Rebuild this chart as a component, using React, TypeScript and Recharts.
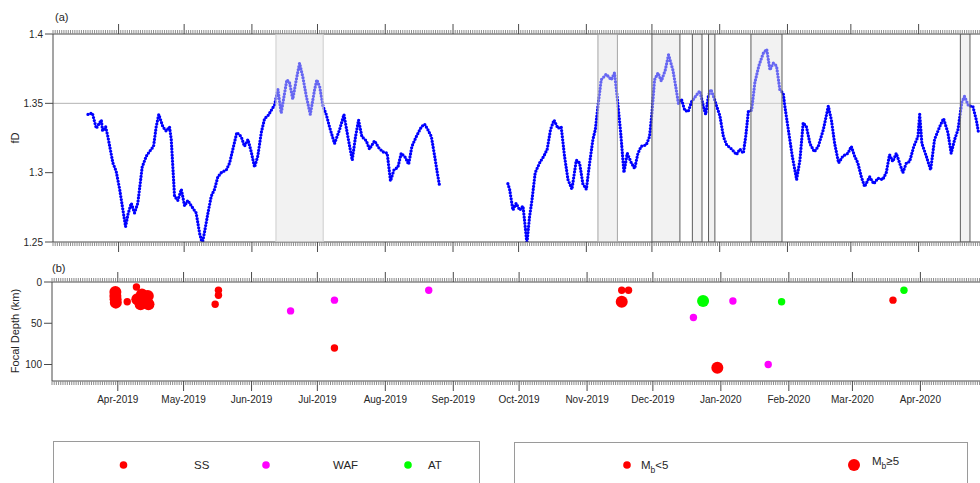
import React from 'react';
import { ComposedChart, Line, Scatter, XAxis, YAxis, ReferenceArea, ReferenceLine } from 'recharts';

// x values are days counted from 1 Apr 2019
const fdDays1 = [-14.0, -12.0, -10.2, -7.9, -7.3, -5.9, -4.9, -2.6, -1.1, 0.5,
  1.7, 3.2, 4.3, 5.8, 7.3, 8.8, 10.8, 12.7, 15.0, 16.0,
  17.2, 18.4, 20.3, 21.8, 23.3, 24.1, 25.6, 27.1, 28.7, 30.2,
  31.7, 33.3, 35.5, 37.1, 38.3, 39.3, 40.9, 42.4, 43.9, 45.4,
  47.0, 49.3, 50.8, 52.3, 54.1, 56.1, 57.6, 59.2, 60.7, 62.2,
  63.7, 65.3, 66.8, 68.3, 69.9, 71.4, 72.9, 74.4, 75.9, 77.0,
  78.2, 79.7, 81.3, 82.8, 84.3, 85.9, 87.7, 89.7, 90.7, 92.0,
  93.5, 95.0, 96.5, 98.8, 101.1, 103.1, 104.9, 106.9, 108.4, 109.8,
  111.3, 113.3, 114.8, 117.1, 119.0, 120.9, 122.9, 124.4, 126.0, 127.8,
  129.3, 131.2, 132.7, 134.2, 136.2, 138.5, 140.0, 141.5, 143.1, 144.6,
  145.8, 146.9];
const fdVals1 = [1.342, 1.343, 1.332, 1.338, 1.330, 1.333, 1.326, 1.307, 1.301, 1.288,
  1.276, 1.261, 1.270, 1.278, 1.271, 1.278, 1.304, 1.312, 1.317, 1.319,
  1.333, 1.342, 1.333, 1.330, 1.333, 1.324, 1.283, 1.280, 1.288, 1.276,
  1.280, 1.276, 1.271, 1.256, 1.249, 1.257, 1.271, 1.283, 1.288, 1.297,
  1.300, 1.302, 1.307, 1.317, 1.329, 1.326, 1.319, 1.324, 1.315, 1.304,
  1.312, 1.329, 1.339, 1.341, 1.345, 1.349, 1.360, 1.343, 1.357, 1.367,
  1.365, 1.353, 1.367, 1.379, 1.369, 1.355, 1.342, 1.360, 1.367, 1.362,
  1.348, 1.342, 1.333, 1.321, 1.331, 1.342, 1.326, 1.309, 1.326, 1.338,
  1.326, 1.323, 1.317, 1.323, 1.318, 1.315, 1.314, 1.294, 1.302, 1.304,
  1.314, 1.311, 1.306, 1.319, 1.326, 1.333, 1.335, 1.331, 1.326, 1.312,
  1.300, 1.290];

const fdDays2 = [178.1, 178.9, 180.4, 181.9, 183.5, 185.0, 185.7, 186.8, 188.0, 189.1,
  190.6, 192.6, 194.6, 196.1, 197.6, 199.2, 201.0, 202.5, 204.0, 205.6,
  207.4, 209.4, 210.9, 212.4, 214.0, 215.5, 217.0, 218.1, 219.3, 220.8,
  223.1, 225.4, 226.9, 228.2, 229.7, 231.2, 232.7, 234.6, 236.1, 237.6,
  239.1, 241.4, 242.9, 244.0, 245.2, 246.8, 248.3, 250.1, 251.6, 253.6,
  254.9, 256.1, 257.5, 259.0, 260.6, 262.1, 264.4, 265.9, 267.5, 268.6,
  269.8, 271.0, 272.4, 273.6, 275.1, 276.7, 278.2, 280.5, 282.7, 284.2,
  285.8, 286.9, 288.1, 289.6, 291.1, 292.9, 294.9, 296.5, 298.0, 299.5,
  301.0, 302.5, 304.1, 304.8, 306.4, 308.2, 310.2, 311.7, 313.2, 314.7,
  316.3, 318.3, 320.1, 322.4, 324.7, 326.1, 327.6, 329.4, 331.4, 333.7,
  335.2, 336.7, 338.2, 339.8, 341.3, 343.6, 345.5, 347.4, 349.6, 351.2,
  352.7, 354.2, 355.8, 357.3, 358.8, 360.4, 361.9, 363.8, 365.7, 366.5,
  367.5, 369.5, 371.5, 373.3, 375.6, 377.4, 379.4, 380.9, 382.5, 384.0,
  385.8, 387.0, 388.9, 390.8, 392.4, 393.4];
const fdVals2 = [1.292, 1.288, 1.273, 1.278, 1.273, 1.276, 1.266, 1.249, 1.268, 1.280,
  1.300, 1.307, 1.312, 1.317, 1.331, 1.338, 1.332, 1.333, 1.312, 1.295,
  1.288, 1.309, 1.307, 1.292, 1.288, 1.307, 1.324, 1.331, 1.348, 1.367,
  1.371, 1.367, 1.372, 1.353, 1.329, 1.300, 1.314, 1.307, 1.303, 1.314,
  1.319, 1.320, 1.326, 1.343, 1.367, 1.372, 1.366, 1.374, 1.385, 1.374,
  1.362, 1.350, 1.353, 1.345, 1.344, 1.351, 1.356, 1.359, 1.348, 1.342,
  1.355, 1.360, 1.354, 1.348, 1.341, 1.326, 1.320, 1.317, 1.313, 1.317,
  1.314, 1.326, 1.344, 1.345, 1.365, 1.377, 1.386, 1.389, 1.374, 1.379,
  1.377, 1.360, 1.357, 1.348, 1.331, 1.312, 1.295, 1.309, 1.336, 1.333,
  1.321, 1.315, 1.319, 1.331, 1.348, 1.338, 1.321, 1.307, 1.312, 1.314,
  1.319, 1.312, 1.307, 1.297, 1.290, 1.297, 1.292, 1.296, 1.295, 1.300,
  1.313, 1.308, 1.314, 1.307, 1.300, 1.307, 1.308, 1.319, 1.326, 1.342,
  1.321, 1.312, 1.302, 1.324, 1.333, 1.339, 1.329, 1.314, 1.324, 1.331,
  1.351, 1.355, 1.348, 1.348, 1.338, 1.329];

// shaded windows (start / end day)
const windowStart = [72.0, 219.3, 244.0, 262.5, 269.9, 289.3, 385.1];
const windowEnd = [93.6, 228.2, 256.8, 266.9, 272.8, 303.5, 389.5];

// earthquakes
const eqDay = [-1.1, -1.1, -1.0, -0.9, 4.3, 8.5, 8.9, 10.4, 11.0, 11.6, 13.7, 14.0, 12.5,
  44.4, 45.9, 45.9, 78.8, 98.8, 98.8, 141.8, 229.8, 232.9, 229.8,
  262.5, 266.9, 280.5, 302.7, 353.5, 358.5, 273.4, 296.6];
const eqDepth = [12, 17, 21, 25, 24, 6, 21, 27, 15, 24, 17, 27, 20,
  27, 10, 16, 35, 22, 80, 10, 10, 10, 24,
  43, 23, 23, 24, 22, 10, 104, 100];
const eqType = ['SS', 'SS', 'SS', 'SS', 'SS', 'SS', 'SS', 'SS', 'SS', 'SS', 'SS', 'SS', 'SS',
  'SS', 'SS', 'SS', 'WAF', 'WAF', 'SS', 'WAF', 'SS', 'SS', 'SS',
  'WAF', 'AT', 'WAF', 'AT', 'SS', 'AT', 'SS', 'WAF'];
const eqMag = [5.2, 5.1, 5.3, 5.0, 4.6, 4.4, 5.1, 5.3, 5.0, 5.2, 5.4, 5.1, 5.0,
  4.5, 4.7, 4.6, 4.5, 4.6, 4.4, 4.5, 4.6, 4.5, 5.2,
  4.5, 5.3, 4.6, 4.7, 4.6, 4.5, 5.1, 4.6];

const monthTicks = [0, 30, 61, 91, 122, 153, 183, 214, 244, 275, 306, 335, 366];
const monthLabels = ['Apr-2019', 'May-2019', 'Jun-2019', 'Jul-2019', 'Aug-2019', 'Sep-2019', 'Oct-2019',
  'Nov-2019', 'Dec-2019', 'Jan-2020', 'Feb-2020', 'Mar-2020', 'Apr-2020'];
const fdTicks = [1.25, 1.3, 1.35, 1.4];
const depthTicks = [0, 50, 100];

const X_DOMAIN: [number, number] = [-30, 395];
const dayTicks = Array.from({ length: X_DOMAIN[1] - X_DOMAIN[0] + 1 }, (_, i) => X_DOMAIN[0] + i);

const FRAME = '#4a4a4a';
const MINOR = '#8c8c8c';
const TEXT = '#262626';
const typeColor: Record<string, string> = { SS: '#ff0000', WAF: '#ff00ff', AT: '#00ff00' };

const seg1 = fdDays1.map((day, i) => ({ day, fd: fdVals1[i] }));
const seg2 = fdDays2.map((day, i) => ({ day, fd: fdVals2[i] }));
const quakes = eqDay.map((day, i) => ({ day, depth: eqDepth[i], type: eqType[i], mag: eqMag[i] }));

// one axis per edge: daily minor ticks, longer ticks on month starts
const timeTick = (dir: number, labels: boolean) => (props: any) => {
  const { x, y, payload } = props;
  const mi = monthTicks.indexOf(payload.value);
  const len = mi >= 0 ? 10 : 4;
  return (
    <g>
      <line x1={x} x2={x} y1={y} y2={y + dir * len} stroke={mi >= 0 ? FRAME : MINOR} strokeWidth={1} />
      {labels && mi >= 0 && (
        <text x={x} y={y + len + 12} textAnchor="middle" fontSize={10} fill={TEXT}>{monthLabels[mi]}</text>
      )}
    </g>
  );
};

const quakeShape = (color: string) => (props: any) => (
  <circle cx={props.cx} cy={props.cy} r={props.payload.mag >= 5 ? 6 : 3.7} fill={color} />
);

const windowEdge = (i: number) => (i === 0 ? '#cdcdcd' : i === 1 ? '#a5a5a5' : '#5c5c5c');

function timeAxes(labels: boolean) {
  return [
    <XAxis key="t" xAxisId="top" orientation="top" type="number" dataKey="day" domain={X_DOMAIN} allowDataOverflow
      ticks={dayTicks} interval={0} tickLine={false} tickSize={0} tickMargin={0} height={1} stroke={FRAME}
      tick={timeTick(-1, false)} />,
    <XAxis key="b" xAxisId="bot" orientation="bottom" type="number" dataKey="day" domain={X_DOMAIN} allowDataOverflow
      ticks={dayTicks} interval={0} tickLine={false} tickSize={0} tickMargin={0} height={1} stroke={FRAME}
      tick={timeTick(1, labels)} />,
  ];
}

export default function App() {
  return (
    <div style={{ position: 'absolute', left: 0, top: 0, width: 980, height: 483, overflow: 'hidden', background: '#fff', fontFamily: '"Liberation Sans", Arial, sans-serif' }}>
      {/* draw the fD curve as a chain of round dots */}
      <style>{'.fd-dots .recharts-line-curve { stroke-dasharray: 0 3.1 !important; stroke-linecap: round !important; }'}</style>
      <div className="fd-dots" style={{ position: 'absolute', left: 0, top: 0 }}>
        <ComposedChart width={985} height={260} margin={{ top: 33, right: 3, bottom: 17, left: 52 }}>
          {timeAxes(false)}
          <YAxis yAxisId="fd" type="number" domain={[1.25, 1.4]} allowDataOverflow ticks={fdTicks} interval={0}
            width={1} tickSize={8} tickMargin={2} stroke={FRAME} tick={{ fontSize: 10, fill: TEXT }} />
          <ReferenceLine xAxisId="bot" yAxisId="fd" y={1.35} stroke="#b4b4b4" strokeWidth={1} />
          <Line xAxisId="bot" yAxisId="fd" data={seg1} dataKey="fd" type="linear" stroke="#0000ff"
            strokeWidth={3.3} strokeLinecap="round" dot={false} activeDot={false} isAnimationActive={false} />
          <Line xAxisId="bot" yAxisId="fd" data={seg2} dataKey="fd" type="linear" stroke="#0000ff"
            strokeWidth={3.3} strokeLinecap="round" dot={false} activeDot={false} isAnimationActive={false} />
          {windowStart.map((s, i) => (
            <ReferenceArea key={i} xAxisId="bot" yAxisId="fd" x1={s} x2={windowEnd[i]} y1={1.25} y2={1.4}
              fill="#e2e2e2" fillOpacity={0.45} stroke={windowEdge(i)} strokeWidth={1} ifOverflow="hidden" zIndex={700} />
          ))}
        </ComposedChart>
      </div>
      <div style={{ position: 'absolute', left: 0, top: 250 }}>
        <ComposedChart width={985} height={170} margin={{ top: 31, right: 1, bottom: 38, left: 51 }}>
          {timeAxes(true)}
          <YAxis yAxisId="dep" type="number" dataKey="depth" domain={[0, 120]} reversed allowDataOverflow ticks={depthTicks}
            interval={0} width={1} tickSize={8} tickMargin={2} stroke={FRAME} tick={{ fontSize: 10, fill: TEXT }} />
          {['SS', 'WAF', 'AT'].map((t) => (
            <Scatter key={t} xAxisId="bot" yAxisId="dep" data={quakes.filter((q) => q.type === t)} dataKey="depth"
              shape={quakeShape(typeColor[t])} isAnimationActive={false} />
          ))}
        </ComposedChart>
      </div>
      <svg width={980} height={483} style={{ position: 'absolute', left: 0, top: 0, pointerEvents: 'none' }}
        fontFamily='"Liberation Sans", Arial, sans-serif' fill={TEXT}>
        <text x={55} y={21} fontSize={11}>(a)</text>
        <text x={52} y={272} fontSize={11}>(b)</text>
        <text transform="translate(19,138) rotate(-90)" textAnchor="middle" fontSize={11}>fD</text>
        <text transform="translate(19,331) rotate(-90)" textAnchor="middle" fontSize={11}>Focal Depth (km)</text>

        <rect x={53.5} y={441.5} width={426} height={60} fill="#fff" stroke="#9a9a9a" />
        <circle cx={123.5} cy={465} r={3.8} fill={typeColor.SS} />
        <text x={194} y={469} fontSize={11.5}>SS</text>
        <circle cx={266} cy={465} r={3.8} fill={typeColor.WAF} />
        <text x={333} y={469} fontSize={11.5}>WAF</text>
        <circle cx={408} cy={465} r={3.8} fill={typeColor.AT} />
        <text x={428} y={469} fontSize={11.5}>AT</text>

        <rect x={514.5} y={442.5} width={453} height={60} fill="#fff" stroke="#9a9a9a" />
        <circle cx={627} cy={465} r={3.8} fill="#ff0000" />
        <text x={641} y={469} fontSize={11.5}>M<tspan dy={4} fontSize={8.5}>b</tspan><tspan dy={-4}>&lt;5</tspan></text>
        <circle cx={854} cy={465} r={6} fill="#ff0000" />
        <text x={872} y={465} fontSize={11.5}>M<tspan dy={4} fontSize={8.5}>b</tspan><tspan dy={-4}>≥5</tspan></text>
      </svg>
    </div>
  );
}
